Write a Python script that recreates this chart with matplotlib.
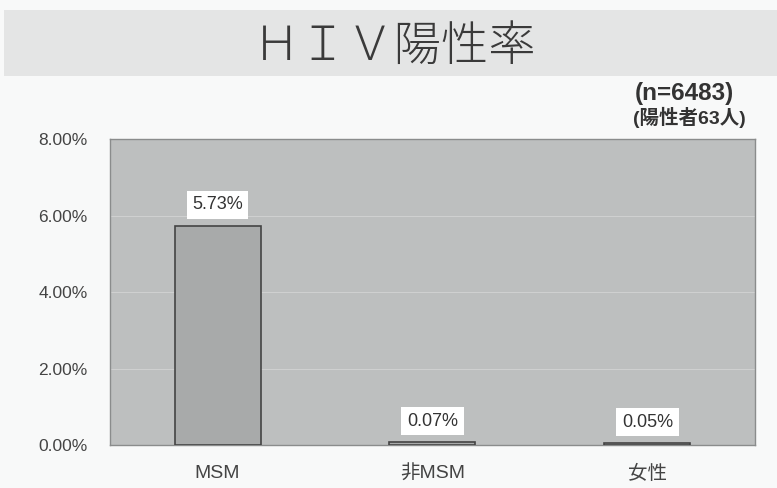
import matplotlib.pyplot as plt
from matplotlib.patches import Rectangle
from matplotlib.ticker import FuncFormatter

plt.rcParams['font.family'] = ['Liberation Sans', 'Noto Sans CJK JP', 'DejaVu Sans']

# data
categories = ['MSM', '非MSM', '女性']
rates = [5.73, 0.07, 0.05]
rate_labels = ['5.73%', '0.07%', '0.05%']
yticks = [0, 2, 4, 6, 8]

fig = plt.figure(figsize=(7.77, 4.88), dpi=100)
fig.patch.set_facecolor('#f8f9f9')

# gray title band
fig.patches.append(Rectangle((0.005, 0.845), 0.995, 0.135, transform=fig.transFigure,
                             facecolor='#e4e5e5', edgecolor='none', zorder=0))
fig.text(0.508, 0.905, 'ＨＩＶ陽性率', ha='center', va='center', fontsize=34,
         color='#3a3a3a', fontweight='light', family='Noto Sans CJK JP')
fig.text(0.881, 0.808, '(n=6483)', ha='center', va='center', fontsize=17.5,
         fontweight='bold', color='#333333')
fig.text(0.887, 0.759, '(陽性者63人)', ha='center', va='center', fontsize=14,
         fontweight='bold', color='#333333')

ax = fig.add_axes([0.1416, 0.088, 0.83, 0.627])
ax.set_facecolor('#bdbfbf')
x = range(len(categories))
ax.bar(x, rates, width=0.4, color='#a8aaaa', edgecolor='#444444', linewidth=1.2, zorder=3)
for i, (v, lab) in enumerate(zip(rates, rate_labels)):
    ax.annotate(lab, (i, v), xytext=(0, 9), textcoords='offset points',
                ha='center', va='bottom', fontsize=13, color='#333333',
                bbox=dict(facecolor='white', edgecolor='none', pad=4), zorder=4)

ax.set_ylim(0, 8)
ax.set_xlim(-0.5, 2.5)
ax.set_yticks(yticks)
ax.yaxis.set_major_formatter(FuncFormatter(lambda v, p: '{:.2f}%'.format(v)))
ax.set_xticks(list(x))
ax.set_xticklabels(categories)
ax.tick_params(axis='y', length=0, labelsize=12.5, colors='#444444', pad=16)
ax.tick_params(axis='x', length=0, labelsize=14, colors='#444444', pad=14)
ax.grid(axis='y', color='#cfd0d0', linewidth=0.8, zorder=1)
for s in ax.spines.values():
    s.set_color('#8a8c8c')
    s.set_linewidth(1.0)

fig.savefig('out.png', dpi=100, facecolor=fig.get_facecolor())
